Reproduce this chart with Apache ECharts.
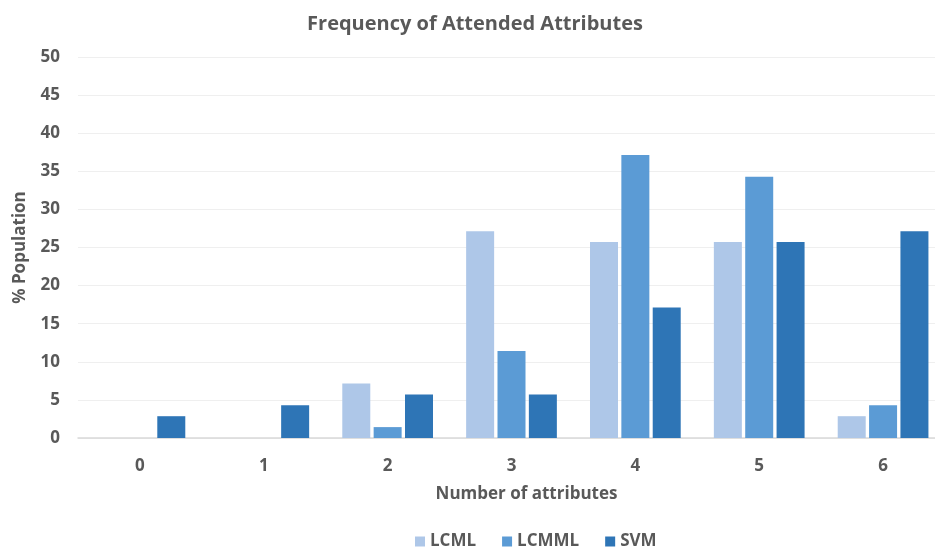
<!DOCTYPE html>
<html>
<head>
<meta charset="utf-8">
<script src="https://cdn.jsdelivr.net/npm/echarts@6/dist/echarts.min.js"></script>
<style>
  html, body { margin: 0; padding: 0; background: #fff; }
  #chart { width: 935px; height: 553px; }
</style>
</head>
<body>
<div id="chart"></div>
<script>
// Number of attended attributes per subject
const categories = ['0', '1', '2', '3', '4', '5', '6'];
// Share of population (%) per model
const lcml  = [0, 0, 7.14, 27.14, 25.71, 25.71, 2.86];
const lcmml = [0, 0, 1.43, 11.43, 37.14, 34.29, 4.29];
const svm   = [2.86, 4.29, 5.71, 5.71, 17.14, 25.71, 27.14];
const seriesNames = ['LCML', 'LCMML', 'SVM'];
const colors = ['#aec7e8', '#5b9bd5', '#2e75b6'];

const textColor = '#595959';
const baseFont = '"Open Sans", "DejaVu Sans", sans-serif';

const chart = echarts.init(document.getElementById('chart'));

function barSeries(name, data, color) {
  return {
    name: name,
    type: 'bar',
    data: data,
    barWidth: 28,
    barGap: '12%',
    itemStyle: { color: color },
    emphasis: { disabled: true }
  };
}

chart.setOption({
  animation: false,
  color: colors,
  title: {
    text: 'Frequency of Attended Attributes',
    left: 470,
    textAlign: 'center',
    top: 9,
    textStyle: {
      color: textColor,
      fontSize: 20,
      fontWeight: 'bold',
      fontFamily: baseFont
    }
  },
  legend: {
    data: seriesNames,
    bottom: -2,
    left: 410,
    itemWidth: 10,
    itemHeight: 10,
    itemGap: 26,
    icon: 'rect',
    textStyle: { color: textColor, fontSize: 17, fontWeight: 'bold', fontFamily: baseFont }
  },
  grid: { left: 78, top: 57, width: 867, height: 381, containLabel: false, outerBoundsMode: 'none' },
  xAxis: {
    type: 'category',
    data: categories,
    name: 'Number of attributes',
    nameLocation: 'middle',
    nameGap: 48,
    nameTextStyle: {
      color: textColor, fontSize: 17, fontWeight: 'bold', fontFamily: baseFont,
      padding: [0, 0, 0, 30]
    },
    axisLine: { lineStyle: { color: '#d9d9d9', width: 1.5 } },
    axisTick: { show: false },
    axisLabel: { color: textColor, fontSize: 17, fontWeight: 'bold', fontFamily: baseFont, margin: 20 }
  },
  yAxis: {
    type: 'value',
    min: 0,
    max: 50,
    interval: 5,
    name: '% Population',
    nameLocation: 'middle',
    nameGap: 49,
    nameRotate: 90,
    nameTextStyle: { color: textColor, fontSize: 17, fontWeight: 'bold', fontFamily: baseFont },
    axisLine: { show: false },
    axisTick: { show: false },
    axisLabel: { color: textColor, fontSize: 17, fontWeight: 'bold', fontFamily: baseFont, margin: 18 },
    splitLine: { lineStyle: { color: '#efefef', width: 1 } }
  },
  series: [
    barSeries(seriesNames[0], lcml, colors[0]),
    barSeries(seriesNames[1], lcmml, colors[1]),
    barSeries(seriesNames[2], svm, colors[2])
  ]
});
</script>
</body>
</html>
